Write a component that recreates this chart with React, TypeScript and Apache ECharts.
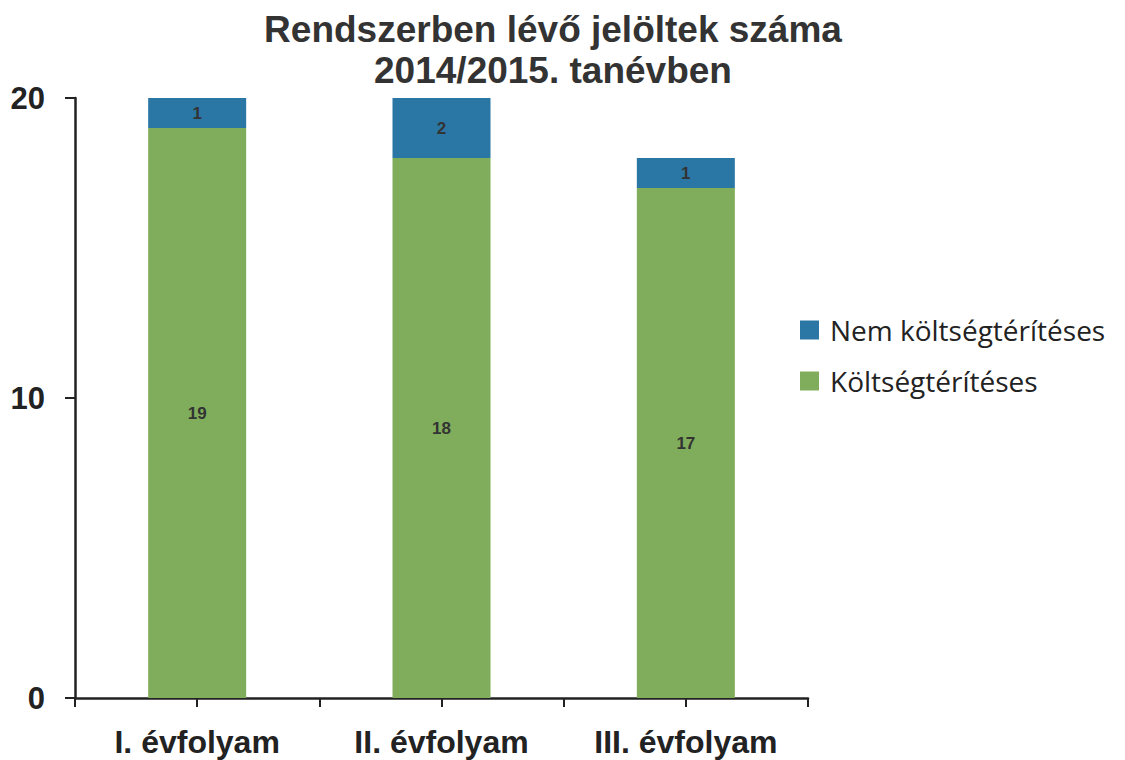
import React, { useEffect, useRef } from "react";
import * as echarts from "echarts";

const categories = ["I. évfolyam", "II. évfolyam", "III. évfolyam"];
const koltsegteritesesValues = [19, 18, 17];
const nemKoltsegteritesesValues = [1, 2, 1];
const yTicks = [0, 10, 20];
const titleText = "Rendszerben lévő jelöltek száma\n2014/2015. tanévben";

export default function App() {
  const ref = useRef<HTMLDivElement>(null);
  useEffect(() => {
    if (!ref.current) return;
    const chart = echarts.init(ref.current, null, { renderer: "svg" });
    const labelStyle = {
      show: true,
      position: "inside",
      fontFamily: "Liberation Sans, Arial, sans-serif",
      fontWeight: "bold",
      fontSize: 17,
      color: "#333",
    };
    chart.setOption({
      animation: false,
      backgroundColor: "#ffffff",
      title: {
        text: titleText,
        left: 548,
        top: 4,
        textAlign: "center",
        textStyle: {
          fontFamily: "Liberation Sans, Arial, sans-serif",
          fontWeight: "bold",
          fontSize: 37,
          lineHeight: 41,
          color: "#333333",
        },
      },
      legend: {
        orient: "vertical",
        left: 795,
        top: 311,
        itemWidth: 19,
        itemHeight: 19,
        itemGap: 23,
        icon: "rect",
        data: ["Nem költségtérítéses", "Költségtérítéses"],
        textStyle: {
          fontFamily: "Open Sans, Noto Sans, sans-serif",
          fontSize: 28,
          color: "#222",
          padding: [0, 0, 0, 6],
        },
      },
      grid: { left: 75, right: 317, top: 98, bottom: 62, containLabel: false },
      xAxis: [
        {
          type: "category",
          data: categories,
          axisLine: { lineStyle: { color: "#222", width: 2.5 } },
          axisTick: { show: true, alignWithLabel: false, length: 9, lineStyle: { color: "#222", width: 2 } },
          axisLabel: {
            margin: 28,
            fontFamily: "Liberation Sans, Arial, sans-serif",
            fontWeight: "bold",
            fontSize: 32,
            color: "#222",
          },
        },
        {
          type: "category",
          data: categories,
          position: "bottom",
          axisLine: { show: false },
          axisTick: { show: true, alignWithLabel: true, length: 9, lineStyle: { color: "#222", width: 2 } },
          axisLabel: { show: false },
        },
      ],
      yAxis: {
        type: "value",
        min: 0,
        max: 20,
        interval: 10,
        splitLine: { show: false },
        axisLine: { show: true, lineStyle: { color: "#222", width: 2.5 } },
        axisTick: { show: true, length: 10, lineStyle: { color: "#222", width: 2 } },
        axisLabel: {
          margin: 30,
          fontFamily: "Liberation Sans, Arial, sans-serif",
          fontWeight: "bold",
          fontSize: 31,
          color: "#222",
          formatter: (v: number) => (yTicks.includes(v) ? String(v) : ""),
        },
      },
      series: [
        {
          name: "Költségtérítéses",
          type: "bar",
          stack: "total",
          barWidth: 98,
          data: koltsegteritesesValues,
          itemStyle: { color: "#80ad5b" },
          label: labelStyle,
        },
        {
          name: "Nem költségtérítéses",
          type: "bar",
          stack: "total",
          barWidth: 98,
          data: nemKoltsegteritesesValues,
          itemStyle: { color: "#2a77a6" },
          label: labelStyle,
        },
      ],
    });
    return () => chart.dispose();
  }, []);
  return (
    <div
      ref={ref}
      style={{ position: "fixed", left: 0, top: 0, width: 1125, height: 760 }}
    />
  );
}
